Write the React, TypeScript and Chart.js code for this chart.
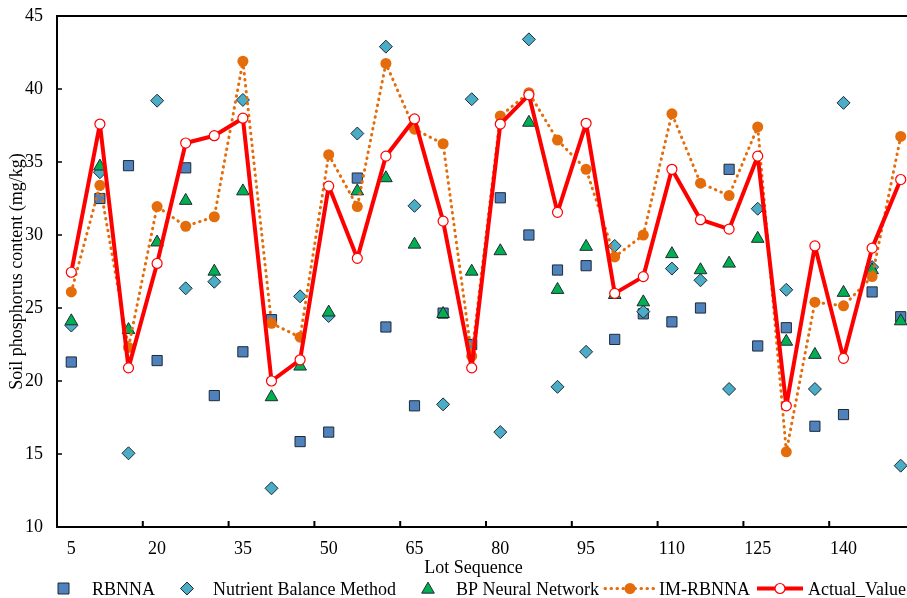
import React, { useEffect, useRef } from 'react';
import { Chart, registerables } from 'chart.js';

Chart.register(...registerables);

// ---- data ----
const lots = [5, 10, 15, 20, 25, 30, 35, 40, 45, 50, 55, 60, 65, 70, 75, 80, 85, 90, 95, 100, 105, 110, 115, 120, 125, 130, 135, 140, 145, 150];

const rbnna = [21.3, 32.5, 34.75, 21.4, 34.6, 19.0, 22.0, 24.2, 15.85, 16.5, 33.9, 23.7, 18.3, 24.65, 22.5, 32.55, 30.0, 27.6, 27.9, 22.85, 24.6, 24.05, 25.0, 34.5, 22.4, 23.65, 16.9, 17.7, 26.1, 24.4];
const nutrientBalance = [23.8, 34.3, 15.05, 39.2, 26.35, 26.8, 39.25, 12.65, 25.8, 24.45, 36.95, 42.9, 32.0, 18.4, 39.3, 16.5, 43.4, 19.6, 22.0, 29.25, 24.75, 27.7, 26.9, 19.45, 31.8, 26.25, 19.45, 39.05, 27.8, 14.2];
const bpNetwork = [24.1, 34.7, 23.5, 29.5, 32.35, 27.5, 33.0, 18.9, 21.0, 24.7, 33.0, 33.9, 29.35, 24.6, 27.5, 28.9, 37.7, 26.25, 29.2, 25.9, 25.4, 28.7, 27.6, 28.05, 29.75, 22.7, 21.8, 26.05, 27.6, 24.1];
const imRbnna = [26.1, 33.4, 22.3, 31.95, 30.6, 31.25, 41.9, 23.95, 23.0, 35.5, 31.95, 41.75, 37.25, 36.25, 21.7, 38.15, 39.75, 36.5, 34.5, 28.5, 30.0, 38.3, 33.55, 32.7, 37.4, 15.15, 25.4, 25.15, 27.15, 36.75];
const actualValue = [27.45, 37.6, 20.9, 28.05, 36.3, 36.8, 38.0, 20.0, 21.45, 33.35, 28.4, 35.4, 37.95, 30.95, 20.9, 37.6, 39.6, 31.55, 37.65, 26.0, 27.15, 34.5, 31.05, 30.4, 35.4, 18.3, 29.25, 21.55, 29.1, 33.8];

const xTickLabels = [5, 20, 35, 50, 65, 80, 95, 110, 125, 140];
const yTickValues = [10, 15, 20, 25, 30, 35, 40, 45];

const seriesNames = ['RBNNA', 'Nutrient Balance Method', 'BP Neural Network', 'IM-RBNNA', 'Actual_Value'];
const xTitle = 'Lot Sequence';
const yTitle = 'Soil phosphorus content (mg/kg)';

// ---- style ----
const FONT = '"Liberation Serif", "Times New Roman", serif';
const C_BLUE = '#4F81BD';
const C_TEAL = '#4BACC6';
const C_GREEN = '#00B050';
const C_ORANGE = '#E46C0A';
const C_RED = '#FF0000';
const C_EDGE = '#1E2A36';
const halfStep = (lots[1] - lots[0]) / 2;
const xMin = lots[0] - halfStep;
const xMax = 151.1;

const pts = (arr: number[]) => lots.map((x, i) => ({ x, y: arr[i] }));

function drawSquare(ctx: CanvasRenderingContext2D, x: number, y: number, s: number) {
  ctx.beginPath();
  ctx.rect(x - s / 2, y - s / 2, s, s);
  ctx.fillStyle = C_BLUE; ctx.fill();
  ctx.lineWidth = 1; ctx.strokeStyle = C_EDGE; ctx.stroke();
}
function drawDiamond(ctx: CanvasRenderingContext2D, x: number, y: number, r: number) {
  ctx.beginPath();
  ctx.moveTo(x, y - r); ctx.lineTo(x + r, y); ctx.lineTo(x, y + r); ctx.lineTo(x - r, y); ctx.closePath();
  ctx.fillStyle = C_TEAL; ctx.fill();
  ctx.lineWidth = 1; ctx.strokeStyle = C_EDGE; ctx.stroke();
}
function drawTriangle(ctx: CanvasRenderingContext2D, x: number, y: number, r: number) {
  ctx.beginPath();
  ctx.moveTo(x, y - r);
  ctx.lineTo(x + r * Math.sin(Math.PI * 2 / 3), y - r * Math.cos(Math.PI * 2 / 3));
  ctx.lineTo(x - r * Math.sin(Math.PI * 2 / 3), y - r * Math.cos(Math.PI * 2 / 3));
  ctx.closePath();
  ctx.fillStyle = C_GREEN; ctx.fill();
  ctx.lineWidth = 1; ctx.strokeStyle = C_EDGE; ctx.stroke();
}

const decorPlugin = {
  id: 'decor',
  afterDraw(chart: any) {
    const { ctx, chartArea: a, scales } = chart;
    const xs = scales.x, ys = scales.y;
    ctx.save();
    // top frame line
    ctx.strokeStyle = '#000';
    ctx.lineWidth = 2;
    ctx.beginPath();
    ctx.moveTo(a.left - 1, a.top);
    ctx.lineTo(a.right, a.top);
    ctx.stroke();
    // inward y tick marks
    ctx.lineWidth = 1.5;
    ctx.beginPath();
    yTickValues.forEach((v) => {
      const py = ys.getPixelForValue(v);
      ctx.moveTo(a.left, py);
      ctx.lineTo(a.left + 5, py);
    });
    ctx.stroke();
    // inward x tick marks at category boundaries
    ctx.lineWidth = 2;
    ctx.beginPath();
    xTickLabels.forEach((v) => {
      const px = xs.getPixelForValue(v - halfStep);
      if (px > a.left + 3 && px < a.right) {
        ctx.moveTo(px, a.bottom);
        ctx.lineTo(px, a.bottom - 6);
      }
    });
    ctx.stroke();

    // x axis title
    ctx.fillStyle = '#000';
    ctx.font = `18px ${FONT}`;
    ctx.textAlign = 'center';
    ctx.textBaseline = 'alphabetic';
    ctx.fillText(xTitle, 473.5, 573);

    // legend
    const ly = 588.5;
    const base = 595;
    ctx.textAlign = 'left';
    drawSquare(ctx, 63.5, ly, 11);
    ctx.fillStyle = '#000'; ctx.fillText(seriesNames[0], 92, base);
    drawDiamond(ctx, 187, ly, 6.5);
    ctx.fillStyle = '#000'; ctx.fillText(seriesNames[1], 213, base);
    drawTriangle(ctx, 428, ly + 1, 7.3);
    ctx.fillStyle = '#000'; ctx.fillText(seriesNames[2], 456, base);
    // IM-RBNNA legend
    ctx.save();
    ctx.strokeStyle = C_ORANGE; ctx.lineWidth = 3; ctx.lineCap = 'round';
    ctx.setLineDash([0.5, 5.5]);
    ctx.beginPath(); ctx.moveTo(605, ly); ctx.lineTo(655, ly); ctx.stroke();
    ctx.restore();
    ctx.beginPath(); ctx.arc(630, ly, 5.5, 0, Math.PI * 2);
    ctx.fillStyle = C_ORANGE; ctx.fill();
    ctx.fillStyle = '#000'; ctx.fillText(seriesNames[3], 659, base);
    // Actual legend
    ctx.strokeStyle = C_RED; ctx.lineWidth = 4;
    ctx.beginPath(); ctx.moveTo(757, ly); ctx.lineTo(803, ly); ctx.stroke();
    ctx.beginPath(); ctx.arc(780, ly, 5, 0, Math.PI * 2);
    ctx.fillStyle = '#fff'; ctx.fill();
    ctx.lineWidth = 1.2; ctx.strokeStyle = C_RED; ctx.stroke();
    ctx.fillStyle = '#000'; ctx.fillText(seriesNames[4], 808, base);
    ctx.restore();
  },
};

export default function App() {
  const ref = useRef<HTMLCanvasElement | null>(null);

  useEffect(() => {
    if (!ref.current) return;
    const tickFont = { family: FONT, size: 18 };
    const chart = new Chart(ref.current, {
      type: 'line',
      data: {
        datasets: [
          {
            label: seriesNames[0], data: pts(rbnna), showLine: false, order: 4,
            pointStyle: 'rect', pointRadius: 7.2, pointHoverRadius: 7.2,
            pointBackgroundColor: C_BLUE, pointBorderColor: C_EDGE, pointBorderWidth: 1,
            borderColor: C_EDGE, backgroundColor: C_BLUE,
          },
          {
            label: seriesNames[1], data: pts(nutrientBalance), showLine: false, order: 3,
            pointStyle: 'rectRot', pointRadius: 6.5, pointHoverRadius: 6.5,
            pointBackgroundColor: C_TEAL, pointBorderColor: C_EDGE, pointBorderWidth: 1,
            borderColor: C_EDGE, backgroundColor: C_TEAL,
          },
          {
            label: seriesNames[2], data: pts(bpNetwork), showLine: false, order: 2,
            pointStyle: 'triangle', pointRadius: 7.3, pointHoverRadius: 7.3,
            pointBackgroundColor: C_GREEN, pointBorderColor: C_EDGE, pointBorderWidth: 1,
            borderColor: C_EDGE, backgroundColor: C_GREEN,
          },
          {
            label: seriesNames[3], data: pts(imRbnna), order: 1,
            borderColor: C_ORANGE, borderWidth: 3, borderDash: [0.5, 5.5], borderCapStyle: 'round',
            borderJoinStyle: 'round',
            pointStyle: 'circle', pointRadius: 5.5, pointHoverRadius: 5.5,
            pointBackgroundColor: C_ORANGE, pointBorderColor: C_ORANGE, pointBorderWidth: 0,
            tension: 0, fill: false,
          },
          {
            label: seriesNames[4], data: pts(actualValue), order: 0,
            borderColor: C_RED, borderWidth: 4, borderJoinStyle: 'round', borderCapStyle: 'round',
            pointStyle: 'circle', pointRadius: 5, pointHoverRadius: 5,
            pointBackgroundColor: '#ffffff', pointBorderColor: C_RED, pointBorderWidth: 1.2,
            tension: 0, fill: false,
          },
        ] as any,
      },
      options: {
        animation: false,
        responsive: false,
        maintainAspectRatio: false,
        layout: { autoPadding: false, padding: { top: 16, left: 0, right: 0, bottom: 0 } },
        plugins: { legend: { display: false }, tooltip: { enabled: false }, title: { display: false } },
        scales: {
          x: {
            type: 'linear',
            min: xMin,
            max: xMax,
            afterBuildTicks: (s: any) => { s.ticks = xTickLabels.map((v) => ({ value: v })); },
            afterFit: (s: any) => { s.height = 71; s.paddingLeft = 0; s.paddingRight = 0; },
            grid: { display: false, drawTicks: false },
            border: { display: true, color: '#000', width: 2 },
            ticks: { font: tickFont, color: '#000', padding: 11, maxRotation: 0, autoSkip: false },
          },
          y: {
            type: 'linear',
            min: 10,
            max: 45,
            afterBuildTicks: (s: any) => { s.ticks = yTickValues.map((v) => ({ value: v })); },
            afterFit: (s: any) => { s.width = 57; s.paddingTop = 0; s.paddingBottom = 0; },
            grid: { display: false, drawTicks: false },
            border: { display: true, color: '#000', width: 2 },
            ticks: { font: tickFont, color: '#000', padding: 14 },
            title: { display: true, text: yTitle, font: tickFont, color: '#000', padding: { top: 6, bottom: 0 } },
          },
        },
      } as any,
      plugins: [decorPlugin],
    });
    return () => chart.destroy();
  }, []);

  return (
    <div style={{ position: 'absolute', left: 0, top: 0, width: 907, height: 598, background: '#fff' }}>
      <canvas ref={ref} width={907} height={598} style={{ display: 'block' }} />
    </div>
  );
}
